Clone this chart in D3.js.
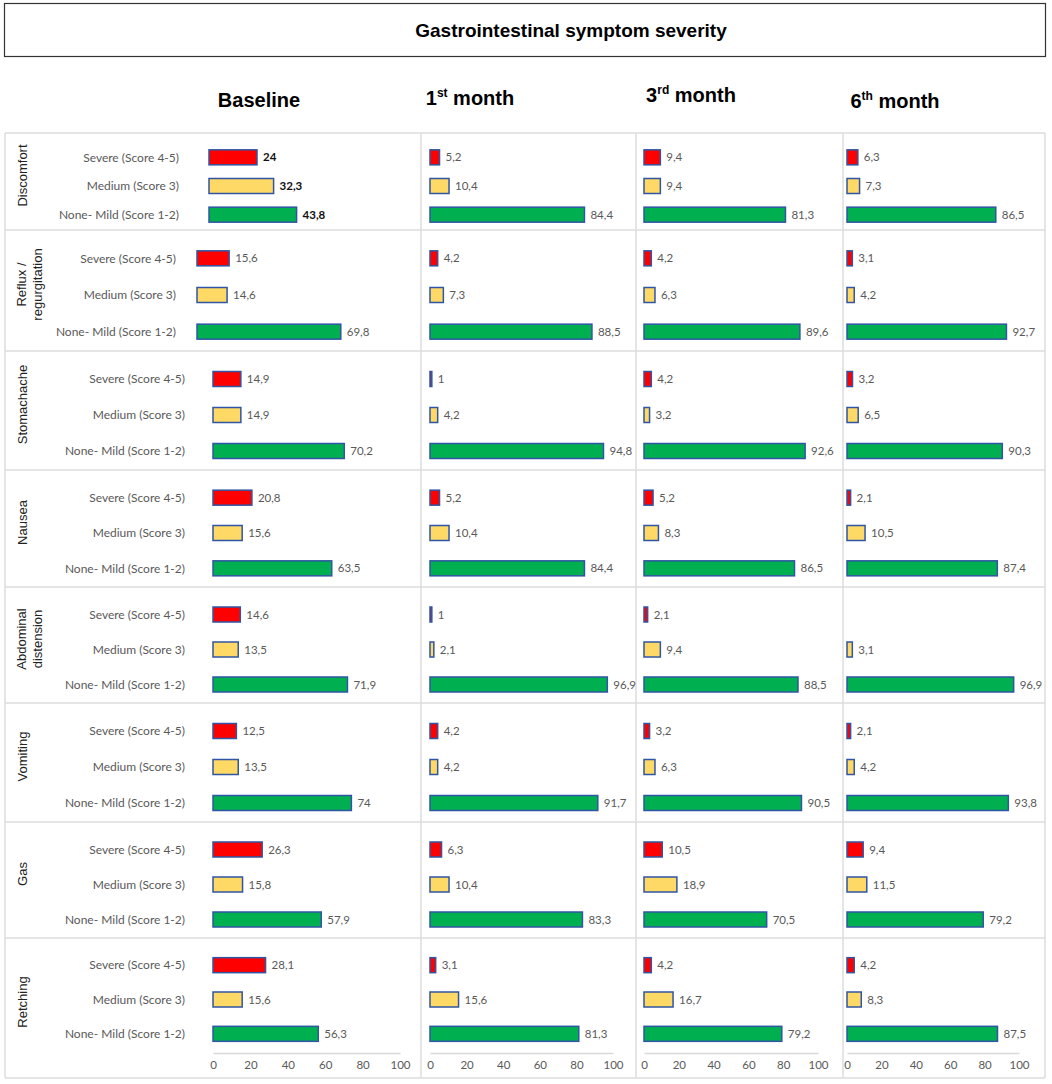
<!DOCTYPE html>
<html>
<head>
<meta charset="utf-8">
<script src="https://cdn.jsdelivr.net/npm/d3@7"></script>
<style>
  body { margin: 0; background: #fff; }
  svg { display: block; }
</style>
</head>
<body>
<div id="chart"></div>
<script>
// data
const symptoms = ["Discomfort", "Reflux / regurgitation", "Stomachache", "Nausea",
  "Abdominal distension", "Vomiting", "Gas", "Retching"];
const severities = ["Severe (Score 4-5)", "Medium (Score 3)", "None- Mild (Score 1-2)"];
const periods = ["Baseline", "1st month", "3rd month", "6th month"];
const ticks = [0, 20, 40, 60, 80, 100];

// one array per period, [severe, medium, none-mild] for each symptom
const baseline = [
  [24, 32.3, 43.8], [15.6, 14.6, 69.8], [14.9, 14.9, 70.2], [20.8, 15.6, 63.5],
  [14.6, 13.5, 71.9], [12.5, 13.5, 74], [26.3, 15.8, 57.9], [28.1, 15.6, 56.3]
];
const month1 = [
  [5.2, 10.4, 84.4], [4.2, 7.3, 88.5], [1, 4.2, 94.8], [5.2, 10.4, 84.4],
  [1, 2.1, 96.9], [4.2, 4.2, 91.7], [6.3, 10.4, 83.3], [3.1, 15.6, 81.3]
];
const month3 = [
  [9.4, 9.4, 81.3], [4.2, 6.3, 89.6], [4.2, 3.2, 92.6], [5.2, 8.3, 86.5],
  [2.1, 9.4, 88.5], [3.2, 6.3, 90.5], [10.5, 18.9, 70.5], [4.2, 16.7, 79.2]
];
const month6 = [
  [6.3, 7.3, 86.5], [3.1, 4.2, 92.7], [3.2, 6.5, 90.3], [2.1, 10.5, 87.4],
  [null, 3.1, 96.9], [2.1, 4.2, 93.8], [9.4, 11.5, 79.2], [4.2, 8.3, 87.5]
];
const seriesByPeriod = [baseline, month1, month3, month6];

// layout
const width = 1052, height = 1084;
const rowEdges = [133, 230, 351, 470, 587, 703, 822, 938, 1078];
const colEdges = [5, 421, 636, 843, 1045];
const colRange = [[213, 400], [430, 613], [644, 818], [847, 1019]];
// the baseline panels of the first two rows were pasted in slightly off
const baseOverride = { 0: { range: [209, 409], labelX: 179 }, 1: { range: [197, 403], labelX: 176 } };
const headerPos = [[259, 107], [470, 105], [691, 102], [895, 108]];
const colors = ["#ff0000", "#ffd966", "#00b050"];
const gridColor = "#dcdcdc";

const svg = d3.select("#chart").append("svg")
  .attr("width", width)
  .attr("height", height);

// title box
svg.append("rect")
  .attr("x", 4.5).attr("y", 3.5)
  .attr("width", 1041).attr("height", 53)
  .attr("fill", "#fff").attr("stroke", "#333").attr("stroke-width", 1.2);
svg.append("text")
  .attr("x", 571).attr("y", 37)
  .attr("text-anchor", "middle")
  .style("font-family", "Liberation Sans, Arial, sans-serif")
  .style("font-weight", "bold")
  .style("font-size", "19px")
  .text("Gastrointestinal symptom severity");

// period headers with superscripts
periods.forEach((p, i) => {
  const t = svg.append("text")
    .attr("x", headerPos[i][0]).attr("y", headerPos[i][1])
    .attr("text-anchor", "middle")
    .style("font-family", "Liberation Sans, Arial, sans-serif")
    .style("font-weight", "bold")
    .style("font-size", "20px");
  const m = p.match(/^(\d)(st|nd|rd|th) (.*)$/);
  if (m) {
    t.append("tspan").text(m[1]);
    t.append("tspan").attr("dy", -8).style("font-size", "12px").text(m[2]);
    t.append("tspan").attr("dy", 8).text(" " + m[3]);
  } else {
    t.text(p);
  }
});

// grid
const grid = svg.append("g").attr("stroke", gridColor).attr("stroke-width", 1.5);
rowEdges.forEach(y => {
  grid.append("line").attr("x1", colEdges[0]).attr("x2", colEdges[4]).attr("y1", y).attr("y2", y);
});
colEdges.forEach(x => {
  grid.append("line").attr("x1", x).attr("x2", x).attr("y1", rowEdges[0]).attr("y2", rowEdges[8]);
});

const font = "Lato, 'Open Sans', sans-serif";
const fmt = v => String(v).replace(".", ",");

symptoms.forEach((s, r) => {
  const top = rowEdges[r];
  const bottom = r === symptoms.length - 1 ? 1052 : rowEdges[r + 1];
  const y = d3.scaleBand().domain(severities).range([top + 11, bottom]).paddingInner(0);
  const barH = 15;
  const g = svg.append("g");

  // symptom label (rotated)
  const lines = s === "Reflux / regurgitation" ? ["Reflux /", "regurgitation"]
    : s === "Abdominal distension" ? ["Abdominal", "distension"] : [s];
  const cy = (top + rowEdges[r + 1]) / 2 - 6;
  const lab = g.append("text")
    .attr("transform", `translate(${lines.length > 1 ? 26 : 27},${cy}) rotate(-90)`)
    .attr("text-anchor", "middle")
    .style("font-family", "Liberation Sans, Arial, sans-serif")
    .style("font-size", "13px")
    .attr("fill", "#222");
  lines.forEach((l, i) => {
    lab.append("tspan").attr("x", 0).attr("dy", i === 0 ? 0 : 16).text(l);
  });

  // severity category labels
  const ov = baseOverride[r];
  const labelX = ov ? ov.labelX : 185;
  severities.forEach(sev => {
    g.append("text")
      .attr("x", labelX)
      .attr("y", y(sev) + y.bandwidth() / 2 - 1)
      .attr("dy", "0.35em")
      .attr("text-anchor", "end")
      .style("font-family", font)
      .style("font-size", "12px")
      .attr("fill", "#595959")
      .text(sev);
  });

  seriesByPeriod.forEach((series, c) => {
    const range = (c === 0 && ov) ? ov.range : colRange[c];
    const x = d3.scaleLinear().domain([0, 100]).range(range);
    const vals = series[r];
    severities.forEach((sev, k) => {
      const v = vals[k];
      if (v == null) return;
      const yc = y(sev) + y.bandwidth() / 2 - 1;
      g.append("rect")
        .attr("x", x(0))
        .attr("y", yc - barH / 2)
        .attr("width", x(v) - x(0))
        .attr("height", barH)
        .attr("fill", colors[k])
        .attr("stroke", "#2f55a4")
        .attr("stroke-width", 1.5);
      const bold = c === 0 && r === 0;
      g.append("text")
        .attr("x", x(v) + 6)
        .attr("y", yc)
        .attr("dy", "0.35em")
        .style("font-family", font)
        .style("font-size", "11.5px")
        .style("font-weight", bold ? "bold" : "normal")
        .attr("fill", bold ? "#111" : "#595959")
        .text(fmt(v));
    });
  });
});

// bottom axes
colRange.forEach(range => {
  const x = d3.scaleLinear().domain([0, 100]).range(range);
  const ax = svg.append("g")
    .attr("transform", "translate(0,1053)")
    .call(d3.axisBottom(x).tickValues(ticks).tickSize(0).tickPadding(8));
  ax.select(".domain").attr("stroke", "#d9d9d9").attr("stroke-width", 1.5);
  ax.selectAll("text")
    .style("font-family", font)
    .style("font-size", "11.5px")
    .attr("fill", "#595959");
});
</script>
</body>
</html>
